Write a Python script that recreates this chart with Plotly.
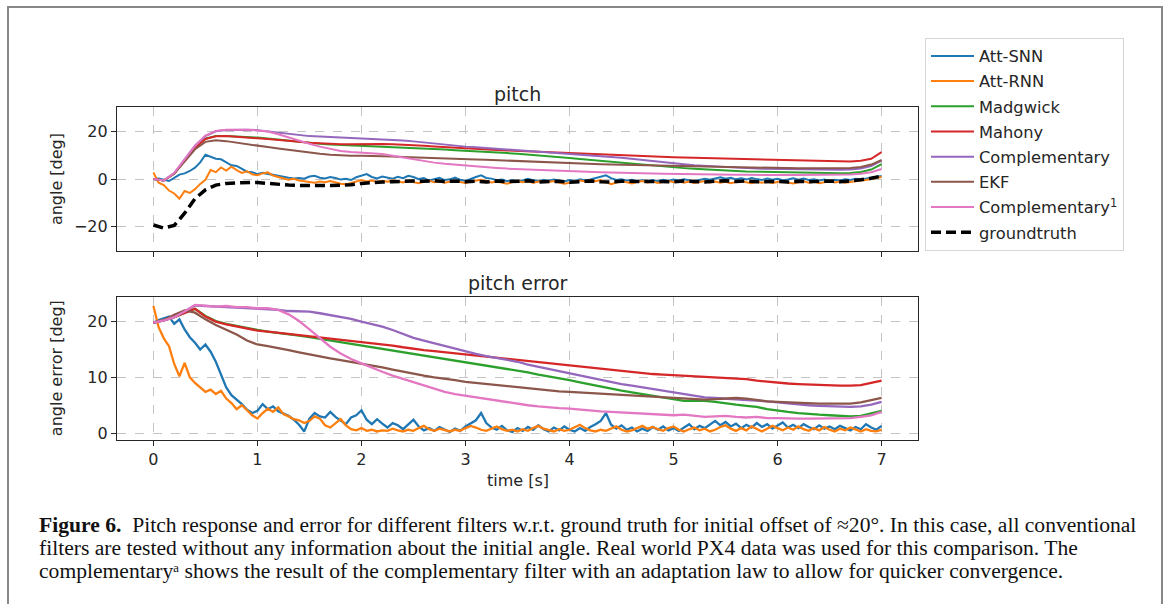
import numpy as np
import plotly.graph_objects as go

W, H = 1167, 604

# ---------------- data ----------------
dt_f = 0.1   # sample spacing of the filter curves
dt_n = 0.05  # sample spacing of the network / noisy curves

groundtruth = [-19.2, -20.5, -19.4, -14.3, -8.2, -4.5, -2.5, -1.8, -1.6, -1.5, -1.4, -1.8, -2.3, -2.5, -2.7,
               -2.8, -2.8, -2.7, -2.6, -2.4, -1.8, -1.4, -1.2, -1.1, -0.9, -0.8, -0.9, -0.7, -1.0, -0.8,
               -1.1, -0.9, -1.2, -0.8, -1.1, -1.0, -0.7, -1.2, -1.0, -0.9, -1.3, -1.0, -0.8, -1.1, -1.2,
               -0.9, -1.0, -0.8, -1.1, -1.0, -1.1, -0.8, -1.0, -1.2, -0.9, -0.7, -1.0, -0.8, -1.1, -0.9,
               -1.0, -1.2, -0.9, -1.1, -1.0, -0.8, -1.1, -0.8, -0.3, 0.4, 1.3]

pitch_compl = [0.0, -0.6, 2.5, 8.5, 14.0, 18.0, 20.0, 20.6, 20.7, 20.7, 20.5, 20.0, 19.4, 18.9, 18.4, 18.0,
               17.8, 17.6, 17.5, 17.4, 17.3, 17.1, 16.9, 16.6, 16.2, 15.8, 15.3, 14.9, 14.4, 14.0, 13.6,
               13.3, 13.0, 12.7, 12.4, 12.1, 11.8, 11.6, 11.3, 11.1, 10.8, 10.5, 10.1, 9.7, 9.3, 8.9, 8.4,
               7.9, 7.4, 7.0, 6.6, 6.2, 5.8, 5.5, 5.2, 5.0, 4.8, 4.6, 4.4, 4.3, 4.2, 4.1, 4.0, 4.0, 3.9,
               3.9, 3.9, 4.0, 4.4, 5.5, 7.7]

pitch_compl1 = [0.0, -0.6, 2.5, 8.5, 14.0, 18.2, 20.2, 20.7, 20.8, 20.7, 20.4, 19.9, 18.8, 17.4, 16.1, 14.8,
                13.6, 12.6, 11.8, 11.4, 11.2, 10.9, 10.5, 9.8, 9.0, 8.2, 7.5, 6.9, 6.4, 6.0, 5.6, 5.3, 5.0,
                4.7, 4.4, 4.2, 4.0, 3.8, 3.7, 3.6, 3.5, 3.3, 3.1, 2.9, 2.8, 2.6, 2.5, 2.4, 2.3, 2.2, 2.1,
                2.0, 2.0, 1.9, 1.9, 1.8, 1.8, 1.8, 1.7, 1.7, 1.7, 1.7, 1.7, 1.7, 1.7, 1.8, 1.8, 1.9, 2.2,
                2.9, 4.2]

pitch_mahony = [0.0, -0.6, 2.3, 8.0, 13.2, 16.8, 17.9, 18.0, 17.8, 17.5, 17.1, 16.8, 16.5, 16.1, 15.6, 15.2,
                14.9, 14.7, 14.6, 14.6, 14.7, 14.7, 14.7, 14.6, 14.5, 14.3, 14.0, 13.7, 13.4, 13.1, 12.9,
                12.7, 12.4, 12.2, 12.0, 11.8, 11.6, 11.4, 11.2, 11.0, 10.8, 10.6, 10.5, 10.3, 10.1, 9.9,
                9.7, 9.6, 9.4, 9.2, 9.1, 9.0, 8.9, 8.8, 8.6, 8.5, 8.4, 8.3, 8.2, 8.1, 8.0, 7.9, 7.8, 7.7,
                7.6, 7.5, 7.4, 7.4, 7.7, 8.5, 11.3]

pitch_madgwick = [0.0, -0.6, 2.3, 8.0, 13.2, 16.9, 18.0, 18.0, 17.9, 17.7, 17.4, 17.0, 16.5, 16.0, 15.5,
                  15.1, 14.8, 14.5, 14.3, 14.1, 14.0, 13.9, 13.8, 13.6, 13.4, 13.2, 12.9, 12.6, 12.4, 12.1,
                  11.9, 11.7, 11.4, 11.2, 10.9, 10.6, 10.3, 10.0, 9.6, 9.2, 8.8, 8.4, 8.0, 7.6, 7.2, 6.8,
                  6.4, 6.0, 5.6, 5.2, 4.9, 4.6, 4.3, 4.0, 3.8, 3.6, 3.4, 3.2, 3.1, 2.9, 2.8, 2.7, 2.7, 2.6,
                  2.6, 2.5, 2.5, 2.6, 3.0, 4.0, 6.3]

pitch_ekf = [0.0, -0.6, 2.2, 7.6, 12.5, 15.6, 16.3, 15.9, 15.2, 14.6, 14.0, 13.4, 12.8, 12.2, 11.6, 11.1,
             10.6, 10.2, 9.9, 9.8, 9.8, 9.8, 9.7, 9.5, 9.3, 9.1, 8.9, 8.7, 8.6, 8.5, 8.4, 8.2, 8.1, 7.9,
             7.7, 7.6, 7.4, 7.2, 7.0, 6.8, 6.6, 6.5, 6.3, 6.2, 6.1, 6.0, 5.9, 5.8, 5.7, 5.6, 5.5, 5.4, 5.2,
             5.1, 5.0, 4.9, 4.8, 4.7, 4.7, 4.6, 4.5, 4.5, 4.5, 4.5, 4.5, 4.5, 4.6, 4.7, 5.1, 6.1, 8.0]

pitch_snn = [0.0, 0.2, -0.3, -0.8, 0.5, 1.9, 2.4, 3.4, 4.8, 7.0, 10.2, 9.4, 8.5, 8.3, 7.0, 5.8, 5.5, 4.2,
             3.1, 2.9, 2.1, 2.6, 2.2, 1.5, 1.2, 0.9, 0.6, 0.3, 0.5, 0.2, 1.1, 1.4, 0.6, 0.3, 0.9, 0.5,
             -0.2, 0.1, -0.4, 0.8, 1.6, 2.1, 0.9, 0.3, 1.1, 0.6, 0.2, 1.0, 0.4, 1.4, 0.9, 0.0, 0.4, -0.6,
             -0.2, 0.5, -0.4, -0.1, 0.6, -0.3, -0.8, 0.2, 0.9, 1.6, 0.5, 0.2, -0.5, -0.2, -0.9, -0.4,
             -1.1, -0.6, 0.1, -0.5, -0.9, -0.3, -0.7, -0.2, -0.6, -1.0, -0.4, -0.8, -0.1, -0.6, -0.2,
             0.4, 0.9, 1.6, 0.4, -0.4, -0.1, -0.7, -0.3, -1.0, -0.5, -0.8, -0.4, -0.9, -0.3, -0.7, -0.2,
             -0.6, -0.1, -0.5, -0.9, -0.4, 0.1, -0.3, 0.4, 0.8, 0.2, 0.6, -0.1, 0.3, -0.2, 0.5, 0.0, -0.4,
             0.2, -0.3, 0.1, -0.5, -0.2, 0.3, -0.3, 0.2, -0.4, -0.1, -0.6, -0.2, -0.7, -0.3, -0.6, -0.1,
             -0.4, 0.1, -0.2, 0.2, 0.6, 1.0, 1.3]

pitch_rnn = [2.8, -1.5, -2.5, -4.8, -6.0, -8.2, -5.0, -5.8, -4.2, -2.0, -0.3, 3.8, 2.9, 4.9, 3.6, 5.2, 3.8,
             2.6, 3.3, 2.0, 1.6, 2.4, 2.8, 1.5, 0.9, 0.2, -0.3, 0.1, -0.6, -0.9, -1.2, -1.5, -1.0, -1.3,
             -0.8, -1.5, -1.9, -2.2, -1.6, -0.8, -0.4, -1.0, -0.6, -1.2, -0.7, -1.1, -0.5, -0.9, -1.4,
             -0.8, -1.2, -1.7, -1.1, -0.7, -1.3, -0.9, -1.5, -1.0, -0.6, -1.2, -1.6, -1.0, -0.5, -0.3,
             -0.8, -1.4, -1.0, -1.6, -1.9, -1.2, -0.8, -1.3, -0.9, -1.5, -1.1, -0.7, -1.2, -0.8, -1.4,
             -1.9, -1.5, -1.1, -0.6, -1.0, -0.5, -0.9, -0.4, -1.2, -2.1, -1.4, -0.9, -1.3, -1.8, -1.2,
             -0.8, -1.4, -1.0, -1.6, -1.1, -0.7, -1.3, -0.9, -1.5, -1.0, -1.6, -1.2, -0.8, -1.4, -1.0,
             -1.5, -1.1, -1.7, -1.2, -0.8, -1.3, -1.7, -1.1, -1.5, -1.0, -1.6, -1.2, -0.8, -1.4, -1.8,
             -1.3, -0.9, -1.5, -1.1, -1.7, -1.3, -0.9, -1.4, -1.0, -1.5, -1.1, -0.8, -0.6, -0.4, 0.0,
             0.5, 0.9]

err_compl = [19.8, 20.2, 20.8, 21.8, 22.9, 22.8, 22.7, 22.7, 22.6, 22.5, 22.4, 22.3, 22.1, 21.9, 21.9, 21.8,
             21.5, 21.2, 20.9, 20.5, 20.0, 19.6, 19.1, 18.5, 17.8, 17.1, 16.6, 16.1, 15.6, 15.1, 14.6,
             14.2, 13.8, 13.5, 13.2, 12.8, 12.3, 11.9, 11.5, 11.1, 10.7, 10.3, 9.9, 9.5, 9.2, 8.8, 8.5,
             8.2, 7.9, 7.6, 7.2, 6.9, 6.6, 6.4, 6.3, 6.2, 6.1, 6.0, 5.9, 5.7, 5.5, 5.3, 5.1, 5.0, 4.9,
             4.8, 4.7, 4.7, 4.8, 5.1, 5.6]

err_compl1 = [19.8, 20.2, 20.8, 21.8, 23.0, 22.8, 22.7, 22.8, 22.6, 22.6, 22.4, 22.4, 22.1, 21.3, 20.1,
              18.6, 17.1, 15.5, 14.3, 13.3, 12.5, 11.7, 11.0, 10.3, 9.7, 9.1, 8.5, 7.9, 7.4, 7.0, 6.7,
              6.4, 6.1, 5.8, 5.5, 5.2, 5.0, 4.8, 4.6, 4.5, 4.4, 4.2, 4.0, 3.9, 3.8, 3.7, 3.5, 3.4, 3.3,
              3.2, 3.2, 3.3, 3.1, 2.9, 3.0, 3.1, 2.9, 2.8, 2.9, 2.7, 2.7, 2.6, 2.6, 2.6, 2.6, 2.6, 2.6,
              2.7, 2.9, 3.2, 3.8]

err_mahony = [19.8, 20.2, 20.8, 21.6, 22.3, 20.9, 20.0, 19.5, 19.1, 18.7, 18.4, 18.2, 18.0, 17.8, 17.6,
              17.4, 17.2, 17.0, 16.8, 16.6, 16.4, 16.2, 16.0, 15.7, 15.4, 15.1, 14.9, 14.7, 14.5, 14.3,
              14.1, 13.9, 13.7, 13.5, 13.3, 13.1, 12.9, 12.7, 12.5, 12.3, 12.2, 12.0, 11.8, 11.6, 11.4,
              11.2, 11.0, 10.8, 10.6, 10.5, 10.4, 10.3, 10.2, 10.1, 10.0, 10.0, 9.8, 9.7, 9.4, 9.2, 9.0,
              8.9, 8.8, 8.7, 8.6, 8.6, 8.5, 8.5, 8.6, 9.0, 9.4]

err_madgwick = [19.8, 20.2, 20.8, 21.6, 22.3, 21.0, 20.1, 19.6, 19.2, 18.8, 18.5, 18.2, 18.0, 17.8, 17.5,
                17.2, 16.9, 16.6, 16.3, 16.0, 15.7, 15.4, 15.1, 14.8, 14.5, 14.2, 13.9, 13.6, 13.3, 13.0,
                12.8, 12.5, 12.2, 11.9, 11.5, 11.2, 10.9, 10.5, 10.2, 9.8, 9.5, 9.1, 8.7, 8.3, 8.0, 7.6,
                7.3, 7.0, 6.6, 6.3, 6.0, 5.8, 5.8, 5.8, 5.6, 5.3, 5.1, 4.9, 4.7, 4.3, 4.0, 3.8, 3.6, 3.4,
                3.3, 3.2, 3.1, 3.0, 3.1, 3.5, 4.0]

err_ekf = [19.8, 20.3, 21.2, 22.0, 21.6, 20.4, 19.4, 18.6, 17.7, 16.6, 15.9, 15.6, 15.3, 14.9, 14.5, 14.1,
           13.8, 13.4, 13.1, 12.8, 12.4, 12.1, 11.8, 11.4, 11.0, 10.6, 10.3, 10.0, 9.8, 9.5, 9.2, 9.0, 8.8,
           8.6, 8.4, 8.2, 8.1, 7.9, 7.7, 7.5, 7.4, 7.3, 7.2, 7.1, 7.0, 6.9, 6.8, 6.6, 6.5, 6.4, 6.3, 6.2,
           6.1, 6.0, 6.1, 6.2, 6.3, 6.2, 5.9, 5.7, 5.6, 5.5, 5.4, 5.4, 5.3, 5.3, 5.3, 5.3, 5.5, 5.9, 6.3]

err_snn = [19.8, 20.3, 20.6, 20.9, 19.6, 20.4, 18.6, 17.2, 16.2, 15.0, 15.9, 14.6, 12.8, 10.4, 8.2, 6.8,
           6.0, 5.2, 4.2, 3.6, 4.0, 5.2, 4.3, 4.8, 3.9, 3.5, 3.1, 2.4, 1.5, 0.3, 2.6, 3.6, 3.0, 2.8, 3.8,
           2.9, 2.2, 1.6, 2.8, 3.2, 4.1, 2.4, 1.6, 2.5, 1.7, 1.0, 1.8, 1.4, 0.7, 1.6, 2.4, 1.2, 0.5, 0.9,
           0.4, 1.1, 0.6, 0.2, 0.8, 0.4, 1.2, 1.8, 2.3, 3.6, 1.8, 1.0, 0.6, 1.3, 0.5, 0.2, 0.9, 0.4, 1.1,
           0.6, 1.4, 0.7, 0.3, 1.0, 0.5, 1.2, 0.6, 0.3, 0.9, 0.4, 1.1, 1.6, 2.2, 3.6, 1.5, 0.8, 1.4, 0.6,
           1.0, 0.3, 0.8, 0.4, 1.1, 0.6, 1.2, 0.5, 0.9, 0.4, 1.0, 1.6, 0.7, 1.3, 0.9, 1.6, 2.2, 1.4, 2.0,
           1.2, 1.7, 0.9, 1.5, 1.0, 1.8, 1.1, 1.6, 0.8, 1.3, 1.9, 1.0, 1.5, 0.9, 1.6, 1.1, 0.7, 1.4, 0.8,
           1.2, 0.7, 1.3, 0.9, 0.5, 1.1, 0.7, 1.6, 1.0, 0.6, 1.3]

err_rnn = [22.8, 19.0, 17.0, 15.6, 12.4, 10.2, 12.6, 10.0, 9.0, 8.2, 7.4, 7.8, 7.0, 7.6, 6.2, 5.4, 4.3,
           5.0, 4.1, 3.2, 2.6, 3.6, 4.4, 3.8, 4.6, 3.4, 3.0, 2.5, 2.3, 1.8, 2.2, 3.0, 2.6, 1.4, 1.0, 1.8,
           2.5, 1.4, 0.7, 0.5, 0.9, 0.4, 0.6, 0.3, 0.5, 0.4, 0.8, 0.5, 0.3, 0.6, 0.4, 0.9, 1.3, 0.7, 0.4,
           0.8, 0.5, 0.3, 0.6, 0.4, 0.9, 1.3, 1.0, 0.6, 0.4, 0.8, 1.2, 0.7, 0.4, 0.6, 0.3, 0.7, 0.4, 0.9,
           1.3, 0.8, 0.5, 0.3, 0.7, 0.4, 0.6, 1.0, 1.5, 0.9, 0.5, 0.3, 0.6, 0.4, 0.8, 1.2, 0.6, 0.3, 0.5,
           0.9, 1.3, 0.8, 1.1, 0.7, 0.4, 0.9, 1.2, 0.6, 0.3, 0.7, 1.0, 0.5, 0.8, 0.3, 0.6, 1.1, 1.4, 0.8,
           0.4, 0.9, 0.5, 1.2, 0.7, 0.3, 0.8, 1.3, 0.9, 0.5, 1.0, 0.6, 1.2, 0.7, 0.4, 0.9, 0.5, 1.1, 0.6,
           0.3, 0.8, 0.5, 1.0, 0.6, 0.3, 0.7, 0.4, 0.3, 0.6]

x_ticks = [0, 1, 2, 3, 4, 5, 6, 7]
y_ticks_pitch = [-20, 0, 20]
y_ticks_err = [0, 10, 20]

names = ["Att-SNN", "Att-RNN", "Madgwick", "Mahony", "Complementary", "EKF",
         "Complementary<sup>1</sup>", "groundtruth"]
colors = ["#1f77b4", "#ff7f0e", "#2ca02c", "#d62728", "#9467bd", "#8c564b", "#e377c2", "#000000"]

caption_lines = [
    "<b>Figure 6.</b>  Pitch response and error for different filters w.r.t. ground truth for initial offset of \u224820\u00b0. In this case, all conventional",
    "filters are tested without any information about the initial angle. Real world PX4 data was used for this comparison. The",
    "complementary\u1d43 shows the result of the complementary filter with an adaptation law to allow for quicker convergence.",
]


def times(vals, dt):
    return np.arange(len(vals)) * dt


# ---------------- figure ----------------
fig = go.Figure()

top_series = [pitch_snn, pitch_rnn, pitch_madgwick, pitch_mahony, pitch_compl, pitch_ekf, pitch_compl1]
top_dt = [dt_n, dt_n, dt_f, dt_f, dt_f, dt_f, dt_f]
err_series = [err_snn, err_rnn, err_madgwick, err_mahony, err_compl, err_ekf, err_compl1]
err_dt = [dt_n, dt_n, dt_f, dt_f, dt_f, dt_f, dt_f]

for i in range(7):
    fig.add_trace(go.Scatter(x=times(top_series[i], top_dt[i]), y=top_series[i], mode="lines",
                             name=names[i], legendgroup=names[i],
                             line=dict(color=colors[i], width=2), xaxis="x", yaxis="y"))
fig.add_trace(go.Scatter(x=times(groundtruth, dt_f), y=groundtruth, mode="lines", name=names[7],
                         legendgroup=names[7],
                         line=dict(color="black", width=3.5, dash="10px,5px"), xaxis="x", yaxis="y"))
for i in range(7):
    fig.add_trace(go.Scatter(x=times(err_series[i], err_dt[i]), y=err_series[i], mode="lines",
                             name=names[i], legendgroup=names[i], showlegend=False,
                             line=dict(color=colors[i], width=2.3), xaxis="x2", yaxis="y2"))

px_x = lambda p: p / W
px_y = lambda p: 1 - p / H

x_dom = [px_x(117), px_x(918)]
tickfont = dict(family="DejaVu Sans", size=16, color="#262626")
axis_common = dict(showline=True, mirror=True, linecolor="#262626", linewidth=1.3,
                   ticks="outside", ticklen=5, tickwidth=1.2, tickcolor="#262626",
                   showgrid=True, gridcolor="#c4c4c4", gridwidth=1, griddash="dash",
                   zeroline=False, tickfont=tickfont)

fig.update_layout(
    width=W, height=H,
    margin=dict(l=0, r=0, t=0, b=0),
    paper_bgcolor="white", plot_bgcolor="white",
    xaxis=dict(domain=x_dom, range=[-0.35, 7.35], tickvals=x_ticks, showticklabels=False,
               anchor="y", **axis_common),
    yaxis=dict(domain=[px_y(252), px_y(108)], range=[-30, 30], tickvals=y_ticks_pitch,
               anchor="x", **axis_common),
    xaxis2=dict(domain=x_dom, range=[-0.35, 7.35], tickvals=x_ticks, anchor="y2", **axis_common),
    yaxis2=dict(domain=[px_y(442), px_y(298)], range=[-1.2, 24.5], tickvals=y_ticks_err,
                anchor="x2", **axis_common),
    legend=dict(x=px_x(925), y=px_y(38), xanchor="left", yanchor="top",
                bordercolor="#d6d6d6", borderwidth=1, bgcolor="white",
                font=dict(family="DejaVu Sans", size=16.3, color="#262626"),
                tracegroupgap=1, itemwidth=43),
    showlegend=True,
)

ann = []
ann.append(dict(text="pitch", x=px_x(517.5), y=px_y(94), xref="paper", yref="paper",
                yanchor="middle", showarrow=False,
                font=dict(family="DejaVu Sans", size=19, color="#262626")))
ann.append(dict(text="pitch error", x=px_x(517.5), y=px_y(284), xref="paper", yref="paper",
                yanchor="middle", showarrow=False,
                font=dict(family="DejaVu Sans", size=19, color="#262626")))
ann.append(dict(text="angle [deg]", x=px_x(56), y=px_y(180), xref="paper", yref="paper",
                xanchor="center", yanchor="middle",
                textangle=-90, showarrow=False, font=dict(family="DejaVu Sans", size=16, color="#262626")))
ann.append(dict(text="angle error [deg]", x=px_x(56), y=px_y(370), xref="paper", yref="paper",
                xanchor="center", yanchor="middle",
                textangle=-90, showarrow=False, font=dict(family="DejaVu Sans", size=16, color="#262626")))
ann.append(dict(text="time [s]", x=px_x(517.5), y=px_y(483), xref="paper", yref="paper",
                yanchor="middle", showarrow=False,
                font=dict(family="DejaVu Sans", size=16, color="#262626")))
for k, line in enumerate(caption_lines):
    ann.append(dict(text=line, x=px_x(37), y=px_y(528 + 23 * k), xref="paper", yref="paper",
                    xanchor="left", yanchor="middle", showarrow=False,
                    font=dict(family="Liberation Serif", size=21.6, color="#111111")))
fig.update_layout(annotations=ann)

fig.add_shape(type="rect", xref="paper", yref="paper", x0=px_x(8), x1=px_x(1162), y0=-0.05, y1=px_y(7),
              line=dict(color="#888888", width=2), fillcolor="rgba(0,0,0,0)", layer="above")

fig.write_html("out.html", config={"displayModeBar": False},
               post_script="document.body.style.margin='0px';document.body.style.overflow='hidden';")
